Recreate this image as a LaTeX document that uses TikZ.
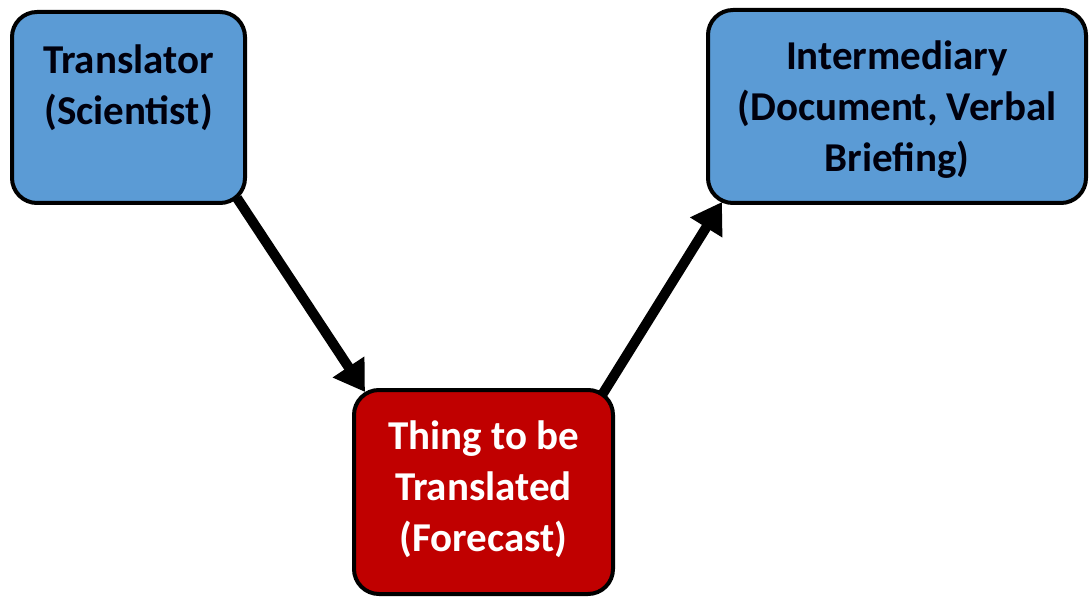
\documentclass[tikz,border=0pt]{standalone}
\usepackage{fontspec}
\setmainfont{Carlito}
\usetikzlibrary{arrows.meta}
\definecolor{boxblue}{HTML}{5B9BD5}
\definecolor{boxred}{HTML}{C00000}
\tikzset{
  box/.style={draw=black, line width=4pt, rounded corners=25pt, outer sep=0pt, inner sep=0pt},
  txt/.style={anchor=north, inner sep=0pt, align=center, font=\fontsize{41}{51}\selectfont\bfseries},
  conn/.style={line width=10pt, -{Triangle[length=30pt,width=36pt]}}
}
\begin{document}
\begin{tikzpicture}[x=1pt,y=1pt]
\useasboundingbox (0,0) rectangle (1090,598);
\node[box, fill=boxblue, minimum width=233pt, minimum height=191pt] (tr) at (128.5,490.5) {};
\node[box, fill=boxblue, minimum width=378pt, minimum height=193pt] (im) at (897,491.5) {};
\node[box, fill=boxred, minimum width=259pt, minimum height=204pt] (rd) at (483.5,106) {};
\node[txt, text=black!95!blue] (trt) at ([yshift=-33pt]tr.north) {Translator\\(Scientist)};
\node[txt, text=black!95!blue] (imt) at ([yshift=-31pt]im.north) {Intermediary\\(Document, Verbal\\Briefing)};
\node[txt, text=white] (rdt) at ([yshift=-31pt]rd.north) {Thing to be\\Translated\\(Forecast)};
\draw[conn] ([xshift=-8pt,yshift=5pt]tr.south east) -- ([xshift=11pt,yshift=-2pt]rd.north west);
\draw[conn] ([xshift=-11pt,yshift=-5pt]rd.north east) -- ([xshift=14pt,yshift=1pt]im.south west);
\end{tikzpicture}
\end{document}
